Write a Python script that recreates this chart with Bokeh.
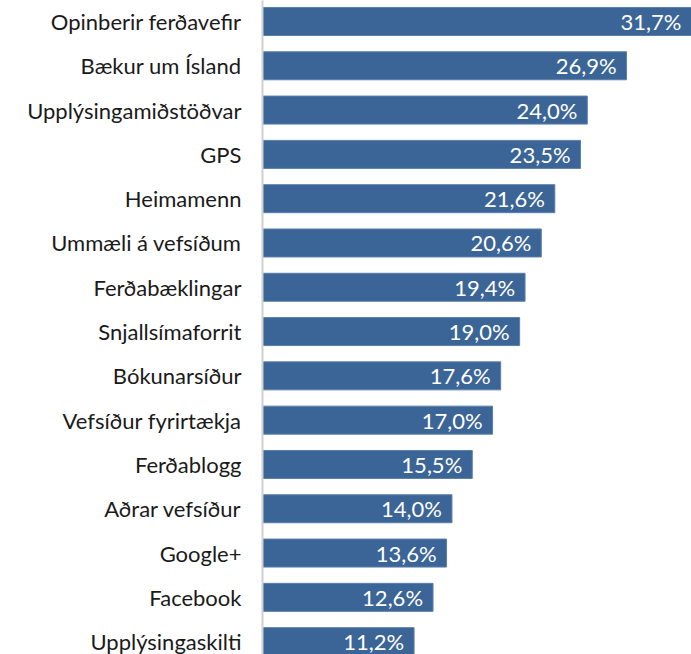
from bokeh.plotting import figure
from bokeh.models import ColumnDataSource, Range1d, FixedTicker
from bokeh.core.properties import value
from bokeh.embed import file_html
from bokeh.resources import INLINE

categories = ["Opinberir ferðavefir", "Bækur um Ísland", "Upplýsingamiðstöðvar", "GPS",
              "Heimamenn", "Ummæli á vefsíðum", "Ferðabæklingar", "Snjallsímaforrit",
              "Bókunarsíður", "Vefsíður fyrirtækja", "Ferðablogg", "Aðrar vefsíður",
              "Google+", "Facebook", "Upplýsingaskilti"]
values = [31.7, 26.9, 24.0, 23.5, 21.6, 20.6, 19.4, 19.0, 17.6, 17.0, 15.5, 14.0, 13.6, 12.6, 11.2]

pos = list(range(len(categories)))
labels = [f"{v:.1f}%".replace(".", ",") for v in values]
src = ColumnDataSource(dict(y=pos, v=values, lab=labels))

p = figure(width=691, height=654, output_backend="svg", toolbar_location=None,
           x_range=Range1d(0, max(values)), y_range=Range1d(14.29, -0.474),
           min_border_left=262, min_border_right=0, min_border_top=0, min_border_bottom=0)
p.hbar(y="y", right="v", left=0, height=0.632, source=src,
       fill_color="#3B6597", line_color="#5B7FAB", line_width=1)
p.text(x="v", y="y", text="lab", source=src, x_offset=-10, text_align="right",
       text_baseline="middle", text_color="white", text_font=value("Lato"),
       text_font_size="22px")

p.xaxis.visible = False
p.xgrid.visible = False
p.ygrid.visible = False
p.outline_line_color = None
ax = p.yaxis[0]
ax.ticker = FixedTicker(ticks=pos)
ax.major_label_overrides = {i: c for i, c in zip(pos, categories)}
ax.major_tick_line_color = None
ax.minor_tick_line_color = None
ax.axis_line_color = "#D0D0D0"
ax.axis_line_width = 2
ax.major_label_standoff = 15
ax.major_label_text_font = "Lato"
ax.major_label_text_font_size = "22px"
ax.major_label_text_color = "#1a1a1a"

open("out.html", "w").write(file_html(p, INLINE))
